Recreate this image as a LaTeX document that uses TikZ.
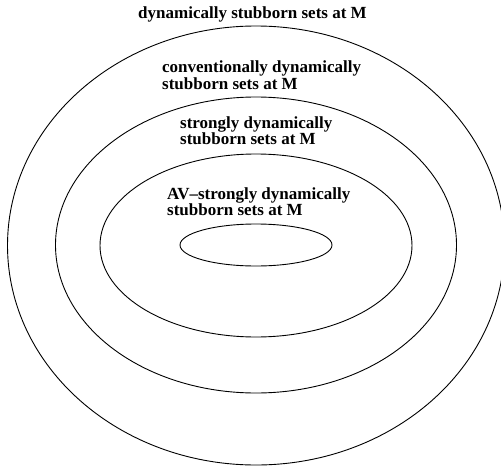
\documentclass[tikz,border=0pt]{standalone}
\usepackage{fontspec}
\setmainfont{Liberation Serif}
\usepackage{tikz}

\begin{document}
\begin{tikzpicture}[
  x=1pt, y=-1pt,
  ring/.style={draw, line width=0.9pt},
  lbl/.style={font=\fontsize{17}{16.5}\selectfont\bfseries, align=left, inner sep=0pt, anchor=base west}
]
\useasboundingbox (0,0) rectangle (501,469);
% nested sets
\draw[ring] (256,245.5) ellipse [x radius=248.5, y radius=219.5];
\draw[ring] (256,245) ellipse [x radius=200.5, y radius=148];
\draw[ring] (256,245.5) ellipse [x radius=156, y radius=91.5];
\draw[ring] (256,245) ellipse [x radius=76, y radius=21];
% labels (base = last line)
\node[lbl, anchor=base] (dyn) at (252.5,18) {dynamically stubborn sets at M};
\node[lbl] (conv) at (162,89.2) {conventionally dynamically\\stubborn sets at M};
\node[lbl] (strong) at (180,144.8) {strongly dynamically\\stubborn sets at M};
\node[lbl] (av) at (167,215.5) {AV--strongly dynamically\\stubborn sets at M};
\end{tikzpicture}
\end{document}
